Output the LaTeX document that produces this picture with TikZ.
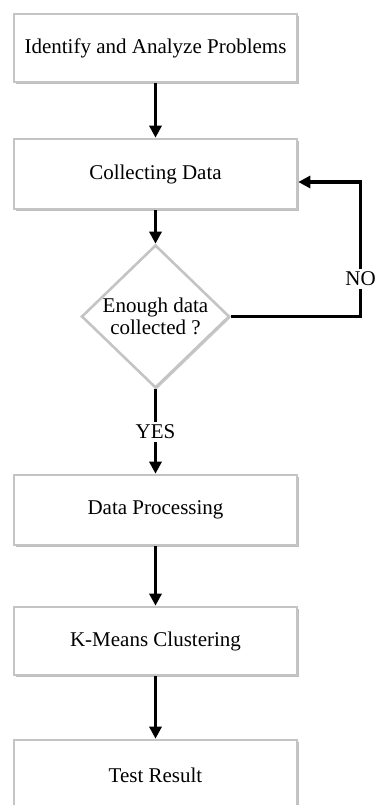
\documentclass[tikz,border=0pt]{standalone}
\usepackage{fontspec}
\setmainfont{Liberation Serif}
\usetikzlibrary{shapes.geometric,arrows.meta,shadows}
\definecolor{boxborder}{HTML}{C4C4C4}
\tikzset{
  stepbox/.style={draw=boxborder, line width=2.6pt, fill=white,
    minimum width=283pt, minimum height=68pt, inner sep=0pt,
    drop shadow={shadow xshift=1.8pt, shadow yshift=-1.8pt, opacity=0.5, fill=gray}},
  decision/.style={draw=boxborder, line width=2.6pt, fill=white, shape=diamond,
    minimum width=148pt, minimum height=143pt, inner sep=0pt, align=center,
    drop shadow={shadow xshift=1.5pt, shadow yshift=-1.5pt, opacity=0.4, fill=gray}},
  lbl/.style={inner sep=3pt, fill=white},
  conn/.style={line width=3.2pt, draw=black},
  arr/.style={conn, -{Triangle[length=12pt,width=12pt]}},
}
\begin{document}
\begin{tikzpicture}[x=1pt,y=-1pt,font=\fontsize{21}{23}\selectfont]
\useasboundingbox (0,0) rectangle (376,805);
\clip (0,0) rectangle (376,805);
\node[stepbox] (b1) at (155.5,48) {Identify and Analyze Problems};
\node[stepbox, minimum height=70pt] (b2) at (155.5,174) {Collecting Data};
\node[decision] (d) at (155.5,316.5) {Enough data\\[-1pt]collected ?};
\node[lbl] (yes) at (155.5,432) {YES};
\node[stepbox, minimum height=70pt] (b3) at (155.5,510) {Data Processing};
\node[stepbox] (b4) at (155.5,641) {K-Means Clustering};
\node[stepbox, minimum height=70pt] (b5) at (155.5,775) {Test Result};
\node[lbl, inner xsep=1pt] (no) at (360.5,279) {NO};
\coordinate (nocorner) at (360.5,182);
\draw[arr] (b1.south) -- (b2.north);
\draw[arr] (b2.south) -- (d.north);
\draw[conn] (d.south) -- (yes.north);
\draw[arr] (yes.south) -- (b3.north);
\draw[arr] (b3.south) -- (b4.north);
\draw[arr] (b4.south) -- (b5.north);
\draw[conn] (d.east) -| (no.south);
\draw[arr] (no.north) -- (nocorner) -- (b2.east |- nocorner);
\end{tikzpicture}
\end{document}
